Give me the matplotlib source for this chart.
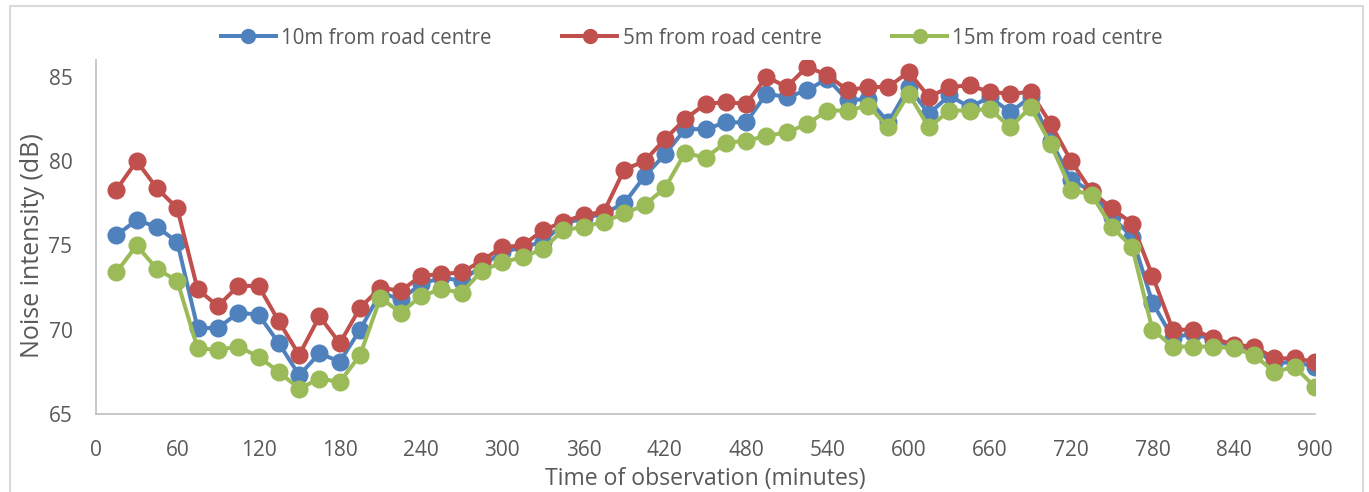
import numpy as np
import matplotlib.pyplot as plt
from matplotlib.lines import Line2D

# time of observation, every 15 minutes
minutes = np.arange(15, 901, 15)

noise_10m = [75.6, 76.5, 76.1, 75.2, 70.1, 70.1, 71.0, 70.9, 69.2, 67.3,
             68.6, 68.1, 70.0, 72.2, 71.8, 72.7, 73.1, 72.9, 73.8, 74.6,
             74.9, 75.2, 76.3, 76.6, 76.9, 77.5, 79.1, 80.4, 81.9, 81.9,
             82.3, 82.3, 84.0, 83.8, 84.2, 84.9, 83.6, 83.7, 82.3, 84.4,
             82.8, 83.9, 83.2, 83.8, 82.9, 83.8, 81.2, 78.9, 78.2, 76.7,
             75.5, 71.6, 69.5, 69.8, 69.4, 69.0, 68.9, 68.0, 68.1, 67.8]
noise_5m = [78.3, 80.0, 78.4, 77.2, 72.4, 71.4, 72.6, 72.6, 70.5, 68.5,
            70.8, 69.2, 71.3, 72.5, 72.3, 73.2, 73.3, 73.4, 74.1, 74.9,
            75.0, 75.9, 76.4, 76.8, 77.0, 79.5, 80.0, 81.3, 82.5, 83.4,
            83.5, 83.4, 85.0, 84.4, 85.6, 85.1, 84.2, 84.4, 84.4, 85.3,
            83.8, 84.4, 84.5, 84.1, 84.0, 84.1, 82.2, 80.0, 78.2, 77.2,
            76.3, 73.2, 70.0, 70.0, 69.5, 69.1, 69.0, 68.3, 68.3, 68.1]
noise_15m = [73.4, 75.0, 73.6, 72.9, 68.9, 68.8, 69.0, 68.4, 67.5, 66.5,
             67.1, 66.9, 68.5, 71.9, 71.0, 72.0, 72.4, 72.2, 73.5, 74.0,
             74.3, 74.8, 75.9, 76.1, 76.4, 76.9, 77.4, 78.4, 80.5, 80.2,
             81.1, 81.2, 81.5, 81.7, 82.2, 83.0, 83.0, 83.3, 82.0, 84.0,
             82.0, 83.0, 83.0, 83.1, 82.0, 83.2, 81.0, 78.3, 78.0, 76.1,
             74.9, 70.0, 69.0, 69.0, 69.0, 68.9, 68.5, 67.5, 67.8, 66.6]

series = [("10m from road centre", noise_10m, "#4F81BD"),
          ("5m from road centre", noise_5m, "#C0504D"),
          ("15m from road centre", noise_15m, "#9BBB59")]

plt.rcParams['font.family'] = ['Open Sans', 'DejaVu Sans']
txt = '#595959'
grey = '#d9d9d9'

fig = plt.figure(figsize=(13.69, 4.92), dpi=100)
ax = fig.add_axes([96/1369, 1-414/492, (1315-96)/1369, (414-60)/492])

for name, vals, col in series:
    ax.plot(minutes, vals, color=col, lw=2.9, marker='o', ms=12, label=name)

ax.set_xlim(0, 900)
ax.set_ylim(65, 86)
ax.set_xticks(np.arange(0, 901, 60))
ax.set_yticks([65, 70, 75, 80, 85])
ax.tick_params(length=0, labelsize=15, labelcolor=txt)
ax.tick_params(axis='x', pad=19)
ax.tick_params(axis='y', pad=17)
for s in ['top', 'right']:
    ax.spines[s].set_visible(False)
for s in ['left', 'bottom']:
    ax.spines[s].set_color('#bfbfbf')
    ax.spines[s].set_linewidth(1.2)

ax.set_xlabel('Time of observation (minutes)', fontsize=16.6, color=txt)
ax.set_ylabel('Noise intensity (dB)', fontsize=18, color=txt)
ax.xaxis.set_label_coords(0.5, -(467-414)/354)
ax.yaxis.set_label_coords(-(96-45)/1219, (414-246)/354)

handles = [Line2D([], [], color=c, lw=2.9, marker='o', ms=10) for _, _, c in series]
fig.legend(handles, [n for n, _, _ in series], loc='center', bbox_to_anchor=(692/1369, 1-38/492),
           ncol=3, frameon=False, fontsize=14.8, labelcolor=txt, handlelength=2.67,
           handletextpad=0.25, columnspacing=3.45)

# chart border like the spreadsheet frame
fig.add_artist(plt.Rectangle((10/1369, -0.05), (1363-10)/1369, 1.05-6/492,
                             transform=fig.transFigure, fill=False, ec=grey, lw=1.5))

fig.savefig('out.png', dpi=100)
